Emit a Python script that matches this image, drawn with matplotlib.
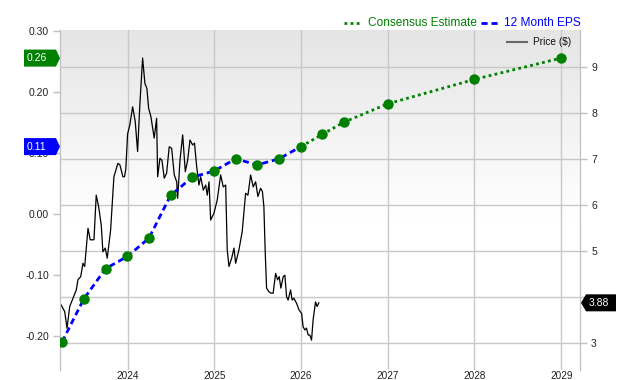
import numpy as np
import pandas as pd
import matplotlib
matplotlib.use("Agg")
import matplotlib.pyplot as plt
from matplotlib.patches import Polygon
from matplotlib.lines import Line2D
from matplotlib.transforms import IdentityTransform

plt.rcParams['font.family'] = ['Liberation Sans', 'DejaVu Sans']

# ---------------- data ----------------
eps_dates = ['2023-03-31', '2023-06-30', '2023-09-30', '2023-12-31', '2024-03-31',
             '2024-06-30', '2024-09-30', '2024-12-31', '2025-03-31', '2025-06-30',
             '2025-09-30', '2025-12-31']
eps_values = [-0.21, -0.14, -0.09, -0.07, -0.04, 0.03, 0.06, 0.07, 0.09, 0.08, 0.09, 0.11]

est_dates = ['2025-12-31', '2026-03-31', '2026-06-30', '2026-12-31', '2027-12-31', '2028-12-31']
est_values = [0.11, 0.13, 0.15, 0.18, 0.22, 0.255]

price_years = [2023.235, 2023.274, 2023.301, 2023.332, 2023.370, 2023.408, 2023.427, 2023.459,
               2023.485, 2023.505, 2023.543, 2023.569, 2023.612, 2023.638, 2023.666, 2023.696,
               2023.715, 2023.742, 2023.765, 2023.804, 2023.842, 2023.888, 2023.911, 2023.946,
               2023.965, 2023.980, 2024.000, 2024.026, 2024.058, 2024.088, 2024.115, 2024.142,
               2024.173, 2024.199, 2024.222, 2024.242, 2024.268, 2024.306, 2024.334, 2024.346,
               2024.372, 2024.395, 2024.422, 2024.449, 2024.479, 2024.507, 2024.537, 2024.565,
               2024.576, 2024.603, 2024.634, 2024.664, 2024.691, 2024.718, 2024.749, 2024.770,
               2024.795, 2024.821, 2024.841, 2024.871, 2024.899, 2024.917, 2024.937, 2024.956,
               2024.994, 2025.032, 2025.071, 2025.101, 2025.129, 2025.147, 2025.167, 2025.198,
               2025.225, 2025.244, 2025.282, 2025.320, 2025.359, 2025.386, 2025.417, 2025.447,
               2025.475, 2025.501, 2025.532, 2025.553, 2025.570, 2025.585, 2025.601, 2025.628,
               2025.651, 2025.677, 2025.705, 2025.728, 2025.747, 2025.766, 2025.793, 2025.812,
               2025.832, 2025.850, 2025.878, 2025.896, 2025.916, 2025.947, 2025.977, 2026.005,
               2026.023, 2026.043, 2026.062, 2026.081, 2026.100, 2026.120, 2026.138, 2026.166,
               2026.184, 2026.204]
price_values = [3.83, 3.69, 3.33, 3.80, 3.98, 4.16, 4.38, 4.45,
                4.74, 4.67, 5.50, 5.25, 5.25, 6.22, 5.97, 5.57,
                4.99, 5.07, 4.85, 5.46, 6.62, 6.91, 6.88, 6.62,
                6.62, 6.80, 7.55, 7.75, 8.14, 7.82, 7.17, 8.22,
                9.20, 8.65, 8.54, 8.11, 7.93, 7.46, 7.89, 6.62,
                7.02, 6.98, 6.59, 6.70, 7.27, 7.24, 6.66, 6.51,
                6.15, 6.98, 7.53, 6.73, 6.98, 7.42, 7.31, 7.35,
                6.84, 6.44, 6.62, 6.33, 6.44, 6.22, 6.51, 5.68,
                5.83, 6.12, 6.66, 6.40, 6.44, 5.03, 4.67, 4.85,
                5.07, 4.74, 5.03, 5.43, 6.26, 6.22, 6.66, 6.40,
                6.51, 6.19, 6.37, 6.30, 5.97, 5.00, 4.20, 4.12,
                4.09, 4.09, 4.52, 4.38, 4.45, 4.20, 4.45, 4.48,
                4.01, 3.94, 4.16, 3.94, 3.98, 3.87, 3.72, 3.65,
                3.36, 3.29, 3.33, 3.18, 3.18, 3.07, 3.51, 3.90,
                3.80, 3.88]

year_ticks = ['2024', '2025', '2026', '2027', '2028', '2029']
eps_ticks = [-0.20, -0.10, 0.00, 0.10, 0.20, 0.30]
eps_tick_labels = ['-0.20', '-0.10', '0.00', '0.10', '0.20', '0.30']
price_ticks = [3, 4, 5, 6, 7, 8, 9]
price_tick_labels = ['3', '', '5', '6', '7', '8', '9']

last_est_label = '0.26'
last_eps_label = '0.11'
last_price_label = '3.88'


def frac_year_to_dt(y):
    yr = int(np.floor(y))
    start = pd.Timestamp(year=yr, month=1, day=1)
    end = pd.Timestamp(year=yr + 1, month=1, day=1)
    return start + (end - start) * (y - yr)


eps_dt = pd.to_datetime(eps_dates)
est_dt = pd.to_datetime(est_dates)
price_dt = [frac_year_to_dt(y) for y in price_years]

# ---------------- figure ----------------
W, H = 640, 380
fig = plt.figure(figsize=(W / 100, H / 100), dpi=100)
L, R, T, B = 60, 580, 30, 370
ax2 = fig.add_axes([L / W, 1 - B / H, (R - L) / W, (B - T) / H])   # price (back)
ax = fig.add_axes([L / W, 1 - B / H, (R - L) / W, (B - T) / H], sharex=ax2)  # EPS (front)
ax.patch.set_visible(False)
ax2.yaxis.tick_right()
ax2.yaxis.set_label_position('right')

xmin = frac_year_to_dt(2023.22)
xmax = frac_year_to_dt(2029.215)
ax2.set_xlim(xmin, xmax)
ax.set_ylim(-0.256, 0.301)
ax2.set_ylim(2.42, 9.81)

# background gradient
grad = np.linspace(0, 1, 256)
gcol = np.clip((grad - 0.45) / 0.55, 0, 1)
rgb = np.ones((256, 1, 3))
top_c = np.array([0.898, 0.898, 0.898])
for i, g in enumerate(gcol):
    rgb[i, 0, :] = 1 - (1 - top_c) * g
ax2.imshow(rgb, extent=[0, 1, 0, 1], transform=ax2.transAxes, aspect='auto',
           origin='lower', zorder=0)

# grid lines
grid_c = '#c8c8c8'
for yt in year_ticks:
    ax2.axvline(pd.Timestamp(f'{yt}-01-01'), color=grid_c, lw=1, zorder=1)
for pt in price_ticks:
    ax2.axhline(pt, color=grid_c, lw=1, zorder=1)

# ticks
ax2.set_xticks([pd.Timestamp(f'{yt}-01-01') for yt in year_ticks])
ax2.set_xticklabels(year_ticks)
ax.tick_params(axis='x', which='both', bottom=False, labelbottom=False)
ax.set_yticks(eps_ticks)
ax.set_yticklabels(eps_tick_labels)
ax2.set_yticks(price_ticks)
ax2.set_yticklabels(price_tick_labels)
ax2.tick_params(axis='x', length=0, labelsize=7.2, pad=0.5, colors='#222222')
ax.tick_params(axis='y', length=5, width=1, color='#c0c0c0', labelsize=7.5,
               pad=3, labelcolor='#222222')
ax2.tick_params(axis='y', length=5, width=1, color='#c0c0c0', labelsize=7.5,
                pad=3, labelcolor='#222222')

for a in (ax, ax2):
    for s in ('top', 'bottom'):
        a.spines[s].set_visible(False)
    a.spines['left'].set_color('#c0c0c0')
    a.spines['right'].set_color('#c0c0c0')

# price line
ax2.plot(price_dt, price_values, color='black', lw=0.9, zorder=3)

# EPS lines
green = '#008000'
blue = '#0000ff'
ax.plot(est_dt, est_values, color=green, lw=2, ls=(0, (1, 1.2)), zorder=4)
ax.plot(eps_dt, eps_values, color=blue, lw=2, ls=(0, (2.2, 1.4)), zorder=5)
ax.plot(eps_dt, eps_values, ls='none', marker='o', ms=6.5, color=green, zorder=6)
ax.plot(est_dt[1:], est_values[1:], ls='none', marker='o', ms=6.5, color=green, zorder=6)

fig.canvas.draw()


def left_flag(yval, text, color):
    _, ypix = ax.transData.transform((0, yval))
    x0, x1 = 24, 56
    tip = 60
    h = 8.5
    verts = [(x0, ypix - h), (x1, ypix - h), (tip, ypix), (x1, ypix + h), (x0, ypix + h)]
    fig.patches.append(Polygon(verts, closed=True, facecolor=color, edgecolor='none',
                               transform=IdentityTransform(), figure=fig, zorder=10))
    fig.text((x0 + 3) / W, ypix / H, text, color='white', fontsize=7.5,
             ha='left', va='center', zorder=11)


def right_flag(yval, text, color):
    _, ypix = ax2.transData.transform((0, yval))
    tip, x1, x2 = 581, 586, 616
    h = 8.5
    verts = [(tip, ypix), (x1, ypix - h), (x2, ypix - h), (x2, ypix + h), (x1, ypix + h)]
    fig.patches.append(Polygon(verts, closed=True, facecolor=color, edgecolor='none',
                               transform=IdentityTransform(), figure=fig, zorder=10))
    fig.text((x1 + 2.5) / W, ypix / H, text, color='white', fontsize=7.5,
             ha='left', va='center', zorder=11)


left_flag(est_values[-1], last_est_label, green)
left_flag(eps_values[-1], last_eps_label, blue)
right_flag(price_values[-1], last_price_label, '#000000')


# top legend
def fig_line(x0, x1, y, **kw):
    fig.add_artist(Line2D([x0 / W, x1 / W], [1 - y / H, 1 - y / H],
                          transform=fig.transFigure, **kw))


fig_line(344, 362, 22.5, color=green, lw=2, ls=(0, (1, 1.2)))
fig.text(368 / W, 1 - 22.5 / H, 'Consensus Estimate', color=green, fontsize=8.6,
         ha='left', va='center')
fig_line(481, 499, 22.5, color=blue, lw=2, ls=(0, (2.2, 1.4)))
fig.text(504 / W, 1 - 22.5 / H, '12 Month EPS', color=blue, fontsize=8.6,
         ha='left', va='center')

fig_line(507, 527, 42, color='#666666', lw=1.5)
fig.text(533 / W, 1 - 42 / H, 'Price ($)', color='#111111', fontsize=7.3,
         ha='left', va='center')

fig.savefig('out.png', dpi=100, facecolor='white')
